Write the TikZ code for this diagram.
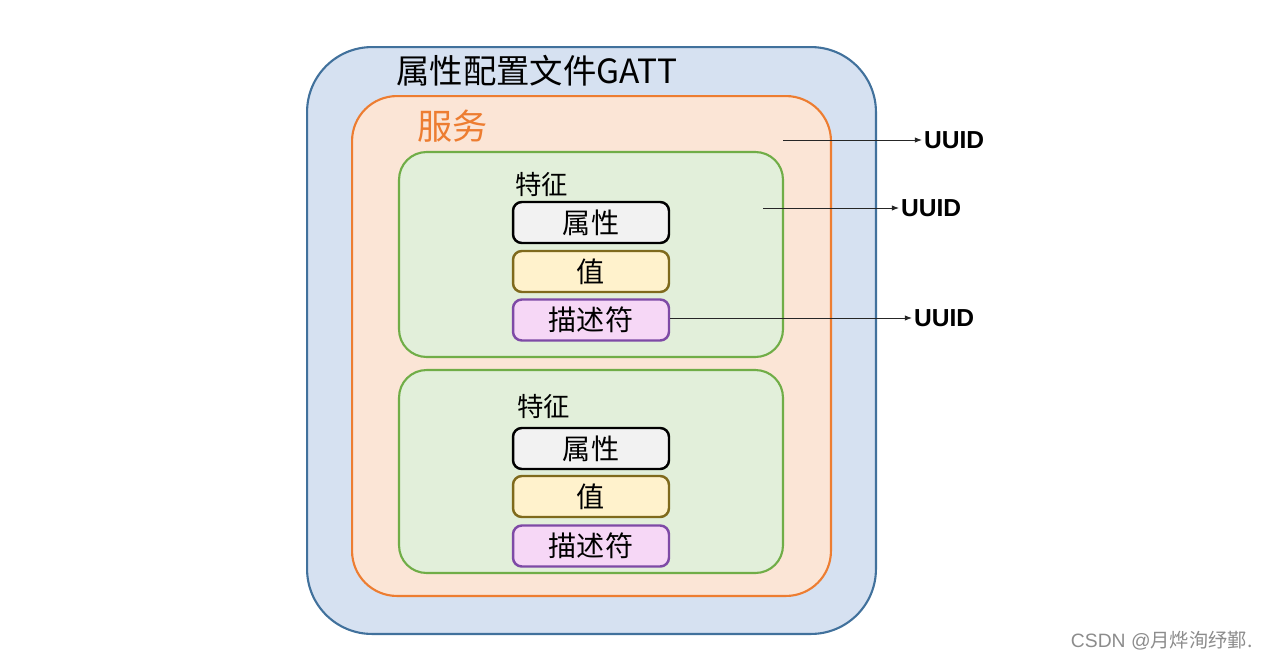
\documentclass[tikz,border=0pt]{standalone}
\usepackage{fontspec}
\setmainfont{Noto Sans CJK SC}
\newfontfamily\latinsans{Liberation Sans}
\usetikzlibrary{arrows.meta,positioning}

\definecolor{gattblue}{HTML}{D6E1F1}
\definecolor{gattline}{HTML}{41719C}
\definecolor{svcfill}{HTML}{FBE5D6}
\definecolor{svcline}{HTML}{ED7D31}
\definecolor{chrfill}{HTML}{E2EFDA}
\definecolor{chrline}{HTML}{70AD47}
\definecolor{valfill}{HTML}{FFF2CC}
\definecolor{valline}{HTML}{7F6A1C}
\definecolor{dscfill}{HTML}{F6D7F6}
\definecolor{dscline}{HTML}{7E4AA6}

\begin{document}
\begin{tikzpicture}[x=0.02cm, y=-0.02cm,
    box/.style={rectangle, inner sep=0pt},
    field/.style={box, rounded corners=5pt, line width=1.4pt,
      minimum width=3.12cm, minimum height=0.82cm, font=\fontsize{16}{16}\selectfont},
    uuid/.style={anchor=west, inner sep=1pt, font=\latinsans\bfseries\fontsize{14}{14}\selectfont},
    link/.style={-{Latex[length=4pt,width=3pt]}, line width=0.5pt, black!85}]
  \useasboundingbox (0,0) rectangle (1266,660);

  % nested containers
  \node[box, draw=gattline, fill=gattblue, line width=1.2pt, rounded corners=1.3cm,
    minimum width=11.38cm, minimum height=11.74cm] (gatt) at (591.5,340.5) {};
  \node[box, draw=svcline, fill=svcfill, line width=1.2pt, rounded corners=0.9cm,
    minimum width=9.58cm, minimum height=10cm] (svc) at (591.5,346) {};
  \node[box, draw=chrline, fill=chrfill, line width=1.2pt, rounded corners=0.55cm,
    minimum width=7.68cm, minimum height=4.1cm] (chr1) at (591,254.5) {};
  \node[box, draw=chrline, fill=chrfill, line width=1.2pt, rounded corners=0.55cm,
    minimum width=7.68cm, minimum height=4.06cm] (chr2) at (591,471.5) {};

  % titles
  \node[anchor=west, inner sep=0pt, font=\fontsize{19}{19}\selectfont] (gattlbl) at (396,71) {属性配置文件GATT};
  \node[anchor=west, inner sep=0pt, text=svcline, font=\fontsize{20}{20}\selectfont] (svclbl) at (417,126) {服务};
  \node[anchor=west, inner sep=0pt, font=\fontsize{15}{15}\selectfont] (chrlbl1) at (515,184) {特征};
  \node[anchor=west, inner sep=0pt, font=\fontsize{15}{15}\selectfont] (chrlbl2) at (517,406) {特征};

  % fields
  \node[field, draw=black, fill=black!5] (attr1) at (591,222.5) {属性};
  \node[field, draw=valline, fill=valfill] (val1) at (591,271.5) {值};
  \node[field, draw=dscline, fill=dscfill] (dsc1) at (591,320) {描述符};
  \node[field, draw=black, fill=black!5] (attr2) at (591,448.5) {属性};
  \node[field, draw=valline, fill=valfill] (val2) at (591,496.5) {值};
  \node[field, draw=dscline, fill=dscfill] (dsc2) at (591,546) {描述符};

  % UUID pointers
  \coordinate (svcpt) at (783,140);
  \coordinate (chrpt) at (763,208);
  \node[uuid] (uuid1) at (922,140) {UUID};
  \node[uuid] (uuid2) at (899,208) {UUID};
  \node[uuid] (uuid3) at (912,318) {UUID};
  \draw[link] (svcpt) -- (uuid1.west);
  \draw[link] (chrpt) -- (uuid2.west);
  \draw[link] (dsc1.east |- uuid3.west) -- (uuid3.west);

  \node[anchor=east, inner sep=0pt, text=black!45, font=\fontsize{11}{11}\selectfont] (mark) at (1253,641) {\latinsans CSDN @\rmfamily 月烨洵纾鄞.};
\end{tikzpicture}
\end{document}
